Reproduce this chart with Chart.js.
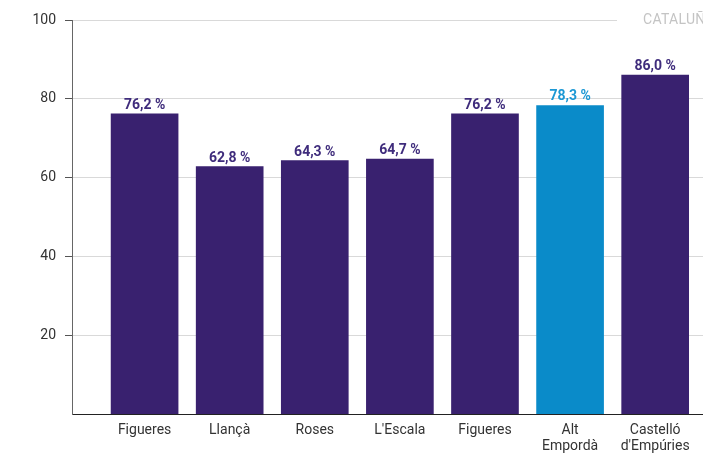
<!DOCTYPE html>
<html lang="ca">
  <head>
    <meta charset="UTF-8" />
    <title>Percentatge</title>
    <script src="https://cdn.jsdelivr.net/npm/chart.js"></script>
    <style>
      body { margin: 0; overflow: hidden; background: #fff; }
      #wrap { position: relative; width: 703px; height: 454px; overflow: hidden; }
      #tag {
        position: absolute; left: 617px; top: 11px;
        background: #fff; padding-left: 26px;
        font: 14px Roboto, sans-serif; color: #c4c4c4;
        white-space: nowrap; letter-spacing: 0.3px;
      }
    </style>
  </head>
  <body>
    <div id="wrap">
      <canvas id="chart"></canvas>
      <div id="tag">CATALUÑA</div>
    </div>

    <script>
      const categories = [
        "Figueres",
        "Llançà",
        "Roses",
        "L'Escala",
        "Figueres",
        ["Alt", "Empordà"],
        ["Castelló", "d'Empúries"],
      ];
      const values = [76.2, 62.8, 64.3, 64.7, 76.2, 78.3, 86.0];
      const yTicks = [20, 40, 60, 80, 100];

      const PURPLE = "#39216f";
      const BLUE = "#0a8bc9";
      const barColors = values.map((v, i) => (i === 5 ? BLUE : PURPLE));
      const textColors = values.map((v, i) => (i === 5 ? "#1c98d4" : "#3f2c7c"));

      // value labels above the bars
      const valueLabels = {
        id: "valueLabels",
        afterDatasetsDraw(chart) {
          const ctx = chart.ctx;
          const meta = chart.getDatasetMeta(0);
          ctx.save();
          ctx.font = "bold 14px Roboto, sans-serif";
          ctx.textAlign = "center";
          ctx.textBaseline = "alphabetic";
          meta.data.forEach((bar, i) => {
            ctx.fillStyle = textColors[i];
            ctx.fillText(values[i].toFixed(1).replace(".", ",") + " %", bar.x, bar.y - 5);
          });
          ctx.restore();
        },
      };

      new Chart(document.getElementById("chart"), {
        type: "bar",
        data: {
          datasets: [
            {
              data: values.map((v, i) => ({ x: i, y: v })),
              backgroundColor: barColors,
              barThickness: 67,
            },
          ],
        },
        options: {
          responsive: true,
          maintainAspectRatio: false,
          animation: false,
          layout: { padding: { top: 20, left: 0, right: 0, bottom: 0 } },
          plugins: { legend: { display: false }, tooltip: { enabled: false } },
          scales: {
            x: {
              type: "linear",
              offset: false,
              min: -0.853,
              max: 6.562,
              afterBuildTicks: (s) => {
                s.ticks = categories.map((c, i) => ({ value: i }));
              },
              afterFit: (s) => {
                s.height = 40;
              },
              grid: { display: false, drawTicks: false, offset: false },
              border: { display: true, color: "#222", width: 1 },
              ticks: {
                autoSkip: false,
                maxRotation: 0,
                padding: 8,
                color: "#333",
                font: { family: "Roboto, sans-serif", size: 14, lineHeight: 1.15 },
                callback: (v) => categories[v] ?? "",
              },
            },
            y: {
              min: 0,
              max: 100,
              afterBuildTicks: (s) => {
                s.ticks = yTicks.map((v) => ({ value: v }));
              },
              afterFit: (s) => {
                s.width = 72;
              },
              grid: { color: "#d9d9d9", tickColor: "#555", tickLength: 7 },
              border: { display: true, color: "#666", width: 1 },
              ticks: {
                padding: 9,
                color: "#333",
                font: { family: "Roboto, sans-serif", size: 14 },
              },
            },
          },
        },
        plugins: [valueLabels],
      });
    </script>
  </body>
</html>
